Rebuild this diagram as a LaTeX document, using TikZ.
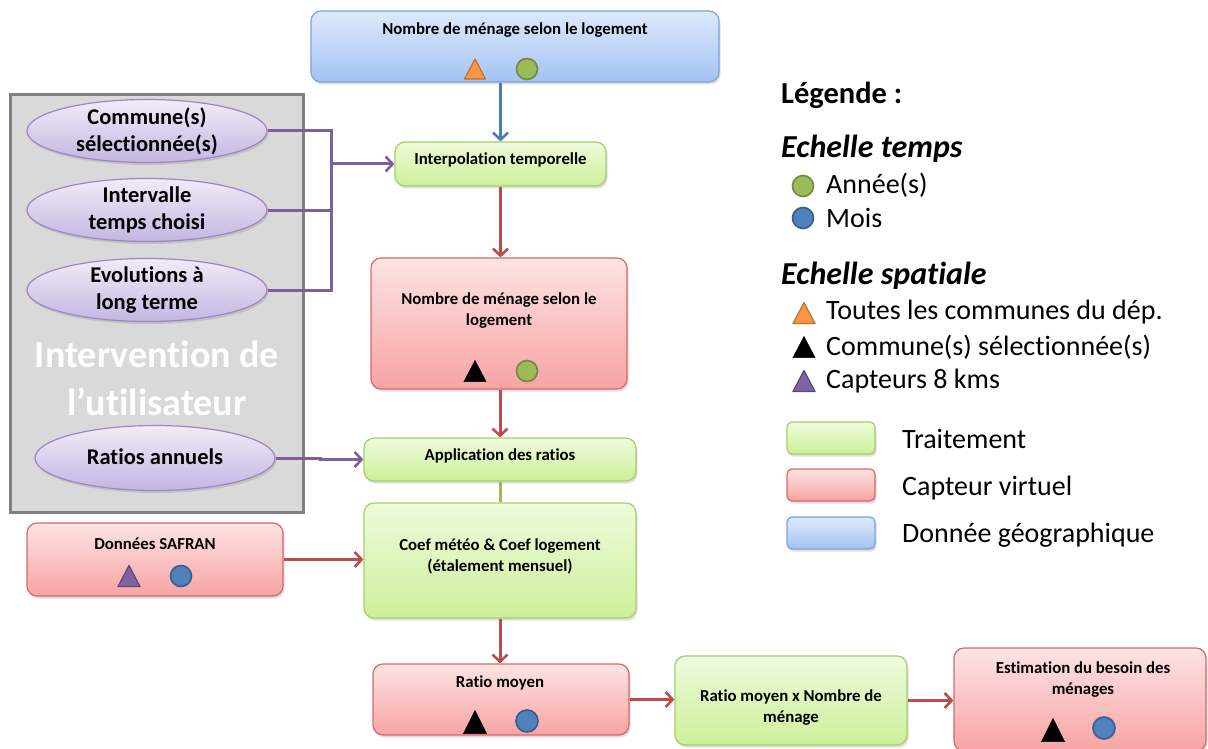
\documentclass[tikz,border=0pt]{standalone}
\usepackage{fontspec}
\setmainfont{Carlito}[Ligatures={NoCommon,NoContextual}]
\usetikzlibrary{arrows.meta,shapes.geometric,shadows,calc}
\definecolor{gTop}{HTML}{EFFBDC}
\definecolor{gBot}{HTML}{CDF09A}
\definecolor{gBrd}{HTML}{A6CE6B}
\definecolor{rTop}{HTML}{FDE4E4}
\definecolor{rBot}{HTML}{F8A3A3}
\definecolor{rBrd}{HTML}{D46A6A}
\definecolor{bTop}{HTML}{DDE9FB}
\definecolor{bBot}{HTML}{A4C3F2}
\definecolor{bBrd}{HTML}{7AA3DC}
\definecolor{pTop}{HTML}{F1ECF8}
\definecolor{pBot}{HTML}{C5B5E2}
\definecolor{pBrd}{HTML}{9E85C5}
\definecolor{panelFill}{HTML}{D9D9D9}
\definecolor{panelBrd}{HTML}{808080}
\definecolor{arrBlue}{HTML}{4A7EBB}
\definecolor{arrRed}{HTML}{BE4B48}
\definecolor{arrPurple}{HTML}{7F5FA0}
\definecolor{arrGreen}{HTML}{9BBB59}
\definecolor{symOrange}{HTML}{F79646}
\definecolor{symOrangeB}{HTML}{C0702A}
\definecolor{symGreen}{HTML}{9BBB59}
\definecolor{symGreenB}{HTML}{71893F}
\definecolor{symBlue}{HTML}{4F81BD}
\definecolor{symBlueB}{HTML}{385D8A}
\definecolor{symPurple}{HTML}{8064A2}
\definecolor{symPurpleB}{HTML}{5C4776}
\newcommand\mytri[5]{\draw[#5] ({#1-#3/2},{#2+#4/2}) -- (#1,{#2-#4/2}) -- ({#1+#3/2},{#2+#4/2}) -- cycle;}
\newcommand\mydot[5]{\draw[#5] (#1,#2) ellipse [x radius=#3, y radius=#4];}
\tikzset{
  shad/.style={drop shadow={opacity=0.25, shadow xshift=1.5pt, shadow yshift=-2.5pt}},
  boxbase/.style={rounded corners=10pt, line width=1.2pt, inner sep=0pt, shad},
  greenbox/.style={boxbase, draw=gBrd, top color=gTop, bottom color=gBot},
  redbox/.style={boxbase, draw=rBrd, top color=rTop, bottom color=rBot},
  bluebox/.style={boxbase, draw=bBrd, top color=bTop, bottom color=bBot},
  ellbox/.style={ellipse, draw=pBrd, line width=1.2pt, top color=pTop, bottom color=pBot, inner sep=0pt, shad, minimum width=240pt, minimum height=63pt},
  elltxt/.style={align=center, inner sep=0pt, font=\fontsize{22.5}{27}\selectfont\bfseries},
  lbl/.style={align=center, inner sep=0pt, font=\fontsize{16.8}{21}\selectfont\bfseries},
  legtxt/.style={anchor=west, inner sep=0pt, font=\fontsize{28}{32}\selectfont},
  leghead/.style={anchor=west, inner sep=0pt, font=\fontsize{32}{36}\selectfont\bfseries\itshape},
  arrowline/.style={line width=3pt, -{Straight Barb[length=7pt,width=15pt,line width=2.6pt]}},
  redarrow/.style={arrowline, draw=arrRed},
  bluearrow/.style={arrowline, draw=arrBlue},
  purplearrow/.style={arrowline, draw=arrPurple},
  purpleline/.style={line width=3pt, draw=arrPurple},
  greenline/.style={line width=3pt, draw=arrGreen},
  orangetri/.style={fill=symOrange, draw=symOrangeB, line width=1.2pt, line join=round},
  blacktri/.style={fill=black, draw=black, line width=0.5pt},
  purpletri/.style={fill=symPurple, draw=symPurpleB, line width=1.2pt, line join=round},
  greendot/.style={fill=symGreen, draw=symGreenB, line width=1.6pt},
  bluedot/.style={fill=symBlue, draw=symBlueB, line width=1.6pt},
}
\begin{document}
\begin{tikzpicture}[x=1pt,y=-1pt]
\useasboundingbox (0,0) rectangle (1208,749);

% user panel
\node[draw=panelBrd, fill=panelFill, line width=3pt, minimum width=293pt, minimum height=417pt, inner sep=0pt] (panel) at (156.5,303.5) {};
\node[align=center, inner sep=0pt, text=white, font=\fontsize{38}{48}\selectfont\bfseries] (paneltxt) at (157,378) {Intervention de\\l’utilisateur};
\node[ellbox] (e1) at (147,131) {};
\node[elltxt] (e1t) at (147,131) {Commune(s)\\sélectionnée(s)};
\node[ellbox] (e2) at (147,210) {};
\node[elltxt] (e2t) at (147,210) {Intervalle\\temps choisi};
\node[ellbox] (e3) at (147,290) {};
\node[elltxt] (e3t) at (147,290) {Evolutions à\\long terme};
\node[ellbox, minimum height=65pt] (e4) at (155,458) {};
\node[elltxt] (e4t) at (155,457) {Ratios annuels};

% top blue box
\node[bluebox, minimum width=408pt, minimum height=71pt] (topbox) at (515,46.5) {};
\node[lbl] (topt) at (515,30) {Nombre de ménage selon le logement};
\mytri{475}{69}{21}{20}{orangetri}
\mydot{527}{69}{10.5}{10.5}{greendot}

% interpolation
\node[greenbox, minimum width=211pt, minimum height=44pt] (interp) at (500.5,164) {};
\node[lbl] (interpt) at (500.5,160) {Interpolation temporelle};

% red menage box
\node[redbox, minimum width=256pt, minimum height=131pt] (menage) at (499,323.5) {};
\node[lbl] (menaget) at (499,311) {Nombre de ménage selon le\\logement};
\mytri{475}{371}{22}{21}{blacktri}
\mydot{527}{371}{10.5}{10.5}{greendot}

% application
\node[greenbox, minimum width=272pt, minimum height=43pt] (app) at (500,459.5) {};
\node[lbl] (appt) at (500,456) {Application des ratios};

% coef
\node[greenbox, minimum width=272pt, minimum height=115pt] (coef) at (500,560.5) {};
\node[lbl] (coeft) at (500,556) {Coef météo \& Coef logement\\(étalement mensuel)};

% SAFRAN
\node[redbox, minimum width=256pt, minimum height=73pt] (safran) at (155,559.5) {};
\node[lbl] (safrant) at (155,544) {Données SAFRAN};
\mytri{129}{576}{22}{21}{purpletri}
\mydot{181}{576}{10.5}{10.5}{bluedot}

% ratio moyen
\node[redbox, minimum width=256pt, minimum height=71pt] (ratio) at (501,699.5) {};
\node[lbl] (ratiot) at (500,683) {Ratio moyen};
\mytri{475}{722}{23}{23}{blacktri}
\mydot{527}{721}{11}{11}{bluedot}

% multiplication
\node[greenbox, minimum width=232pt, minimum height=89pt] (mult) at (791,700.5) {};
\node[lbl] (multt) at (791,707.5) {Ratio moyen x Nombre de\\ménage};

% estimation
\node[redbox, minimum width=252pt, minimum height=103pt] (estim) at (1080,699.5) {};
\node[lbl] (estimt) at (1083,679.5) {Estimation du besoin des\\ménages};
\mytri{1053}{730}{23}{23}{blacktri}
\mydot{1104}{728}{11}{11}{bluedot}

% connectors
\draw[bluearrow] (topbox.south -| interp.north) -- (interp.north);
\draw[redarrow] (interp.south) -- (menage.north -| interp.south);
\draw[redarrow] (menage.south -| app.north) -- (app.north);
\draw[greenline] (app.south) -- (coef.north);
\draw[redarrow] (coef.south) -- (coef.south |- ratio.north);
\draw[redarrow] (safran.east) -- (safran.east -| coef.west);
\draw[redarrow] (ratio.east) -- (ratio.east -| mult.west);
\draw[redarrow] (mult.east) -- (mult.east -| estim.west);

\coordinate (jtop) at (331,131);
\coordinate (jbot) at (331,290);
\draw[purpleline, line join=miter] (e1.east) -- (jtop) -- (jbot) -- (e3.east);
\draw[purpleline] (e2.east) -- (e2.east -| jtop);
\draw[purplearrow] (jtop |- interp.west) -- (interp.west);
\coordinate (rj) at (320,458);
\draw[purplearrow] (e4.east) -- (rj) |- (app.west);

% legend
\node[anchor=west, inner sep=0pt, font=\fontsize{30.5}{34}\selectfont\bfseries] (legtitle) at (781,95) {Légende :};
\node[leghead] (legtemps) at (781,149) {Echelle temps};
\mydot{803}{186}{10.5}{10.5}{greendot}
\node[legtxt] (legannee) at (826,185) {Année(s)};
\mydot{803}{218}{10.5}{10.5}{bluedot}
\node[legtxt] (legmois) at (826,218) {Mois};
\node[leghead] (legspat) at (781,276) {Echelle spatiale};
\mytri{804}{313}{22}{21}{orangetri}
\node[legtxt] (legtoutes) at (826,312) {Toutes les communes du dép.};
\mytri{804}{347}{22}{21}{blacktri}
\node[legtxt] (legcomm) at (826,347) {Commune(s) sélectionnée(s)};
\mytri{804}{381}{22}{21}{purpletri}
\node[legtxt] (legcapt) at (826,381) {Capteurs 8 kms};
\node[greenbox, rounded corners=5pt, minimum width=88pt, minimum height=32pt] (lg) at (831,438) {};
\node[legtxt] (lgt) at (902,439) {Traitement};
\node[redbox, rounded corners=5pt, minimum width=88pt, minimum height=32pt] (lr) at (831,485) {};
\node[legtxt] (lrt) at (902,488) {Capteur virtuel};
\node[bluebox, rounded corners=5pt, minimum width=88pt, minimum height=32pt] (lb) at (831,533) {};
\node[legtxt] (lbt) at (902,535) {Donnée géographique};
\end{tikzpicture}
\end{document}
